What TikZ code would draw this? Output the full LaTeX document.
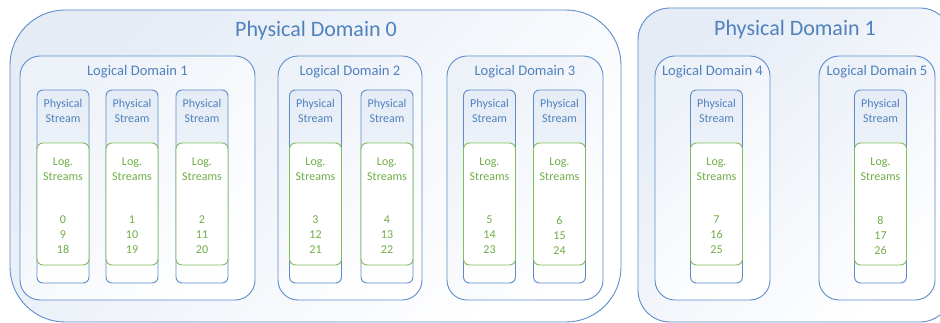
\documentclass[tikz,border=0pt]{standalone}
\usepackage{fontspec}
\setmainfont{Carlito}
\definecolor{lineblue}{RGB}{92,141,203}
\definecolor{textblue}{RGB}{79,129,189}
\definecolor{linegreen}{RGB}{130,188,92}
\definecolor{textgreen}{RGB}{112,173,71}
\definecolor{bgblue}{RGB}{229,236,246}
\tikzset{
  pdbox/.style={draw=lineblue, line width=0.9pt, inner sep=0pt, top color=bgblue, bottom color=white, shading angle=45},
  ldbox/.style={draw=lineblue, line width=0.9pt, inner sep=0pt, rounded corners=20pt, minimum height=244pt, top color=bgblue!70, bottom color=white, shading angle=45},
  psbox/.style={draw=lineblue, line width=0.9pt, inner sep=0pt, rounded corners=6pt, minimum width=52pt, minimum height=193pt, top color=bgblue, bottom color=white},
  lsbox/.style={draw=linegreen, line width=0.9pt, fill=white, inner sep=0pt, rounded corners=6pt, minimum width=52pt, minimum height=122pt},
  pdtitle/.style={text=textblue, font=\fontsize{22}{26}\selectfont},
  ldtitle/.style={text=textblue, font=\fontsize{14.6}{17}\selectfont},
  pstext/.style={text=textblue, align=center, inner sep=0pt, font=\fontsize{12}{15}\selectfont},
  lstext/.style={text=textgreen, align=center, inner sep=0pt, font=\fontsize{12}{15}\selectfont}
}
\begin{document}
\begin{tikzpicture}[x=1pt,y=-1pt]
\useasboundingbox (0,0) rectangle (940,323);

% physical domains
\node[pdbox, rounded corners=55pt, minimum width=611pt, minimum height=312pt] (pd0) at (315.5,166) {};
\node[pdbox, rounded corners=32pt, minimum width=314pt, minimum height=314pt] (pd1) at (795,165) {};
\node[pdtitle] (pd0title) at (316,30.5) {Physical Domain 0};
\node[pdtitle] (pd1title) at (795,29.5) {Physical Domain 1};

% logical domains
\node[ldbox, minimum width=235pt] (ld1) at (137.5,178) {};
\node[ldbox, minimum width=144pt] (ld2) at (350,178) {};
\node[ldbox, minimum width=156pt] (ld3) at (525,178) {};
\node[ldbox, minimum width=115pt] (ld4) at (712.5,178) {};
\node[ldbox, minimum width=116pt] (ld5) at (877,178) {};
\node[ldtitle] (ld1title) at (137.5,71.5) {Logical Domain 1};
\node[ldtitle] (ld2title) at (350,71.5) {Logical Domain 2};
\node[ldtitle] (ld3title) at (525,71.5) {Logical Domain 3};
\node[ldtitle] (ld4title) at (712.5,71.5) {Logical Domain 4};
\node[ldtitle] (ld5title) at (877,71.5) {Logical Domain 5};

% physical streams
\node[psbox] (ps0) at (63,186.5) {};
\node[psbox] (ps1) at (132,186.5) {};
\node[psbox] (ps2) at (202,186.5) {};
\node[psbox] (ps3) at (315.5,186.5) {};
\node[psbox] (ps4) at (387,186.5) {};
\node[psbox] (ps5) at (489.5,186.5) {};
\node[psbox] (ps6) at (559.5,186.5) {};
\node[psbox] (ps7) at (716.5,186.5) {};
\node[psbox] (ps8) at (880.5,186.5) {};

% logical streams
\node[lsbox] (ls0) at (63,204) {};
\node[lsbox] (ls1) at (132,204) {};
\node[lsbox] (ls2) at (202,204) {};
\node[lsbox] (ls3) at (315.5,204) {};
\node[lsbox] (ls4) at (387,204) {};
\node[lsbox] (ls5) at (489.5,204) {};
\node[lsbox] (ls6) at (559.5,204) {};
\node[lsbox] (ls7) at (716.5,204) {};
\node[lsbox] (ls8) at (880.5,204) {};

% texts
\node[pstext] (ps0text) at (63,111) {Physical\\Stream};
\node[pstext] (ps1text) at (132,111) {Physical\\Stream};
\node[pstext] (ps2text) at (202,111) {Physical\\Stream};
\node[pstext] (ps3text) at (315.5,111) {Physical\\Stream};
\node[pstext] (ps4text) at (387,111) {Physical\\Stream};
\node[pstext] (ps5text) at (489.5,111) {Physical\\Stream};
\node[pstext] (ps6text) at (559.5,111) {Physical\\Stream};
\node[pstext] (ps7text) at (716.5,111) {Physical\\Stream};
\node[pstext] (ps8text) at (880.5,111) {Physical\\Stream};

\node[lstext] (ls0text) at (63,169) {Log.\\Streams};
\node[lstext] (ls1text) at (132,169) {Log.\\Streams};
\node[lstext] (ls2text) at (202,169) {Log.\\Streams};
\node[lstext] (ls3text) at (315.5,169) {Log.\\Streams};
\node[lstext] (ls4text) at (387,169) {Log.\\Streams};
\node[lstext] (ls5text) at (489.5,169) {Log.\\Streams};
\node[lstext] (ls6text) at (559.5,169) {Log.\\Streams};
\node[lstext] (ls7text) at (716.5,169) {Log.\\Streams};
\node[lstext] (ls8text) at (880.5,169) {Log.\\Streams};

\node[lstext] (ls0nums) at (63,235) {0\\9\\18};
\node[lstext] (ls1nums) at (132,235) {1\\10\\19};
\node[lstext] (ls2nums) at (202,235) {2\\11\\20};
\node[lstext] (ls3nums) at (315.5,235) {3\\12\\21};
\node[lstext] (ls4nums) at (387,235) {4\\13\\22};
\node[lstext] (ls5nums) at (489.5,235) {5\\14\\23};
\node[lstext] (ls6nums) at (559.5,235) {6\\15\\24};
\node[lstext] (ls7nums) at (716.5,235) {7\\16\\25};
\node[lstext] (ls8nums) at (880.5,235) {8\\17\\26};
\end{tikzpicture}
\end{document}
